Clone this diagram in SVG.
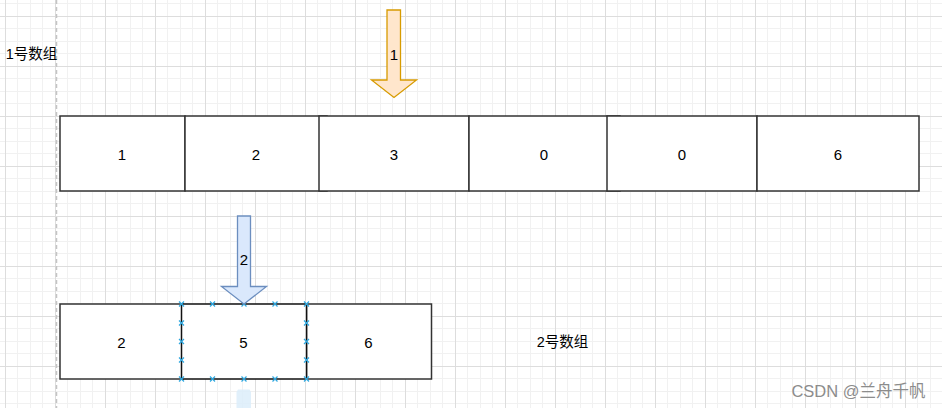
<svg xmlns="http://www.w3.org/2000/svg" width="942" height="408" viewBox="0 0 942 408">
<style>
.cell{fill:#ffffff;stroke:#333333;stroke-width:1.5}
.sel{fill:#ffffff;stroke:#111111;stroke-width:1.5}
.t{font-family:"Liberation Sans","Noto Sans CJK SC",Arial,sans-serif;font-size:15px;fill:#000000;text-anchor:middle;dominant-baseline:central}
.lbl{font-family:"Liberation Sans","Noto Sans CJK SC",Arial,sans-serif;font-size:14.5px;fill:#000000;text-anchor:middle;dominant-baseline:central}
.wm{font-family:"Liberation Sans","Noto Sans CJK SC",Arial,sans-serif;font-size:16.5px;fill:#8c8c8c;text-anchor:middle;dominant-baseline:central}
.cp{stroke:#2fa8e0;stroke-width:1.2;fill:none}
</style>
<defs>
<pattern id="grid" patternUnits="userSpaceOnUse" x="5" y="16" width="50" height="50">
<rect x="0" y="0" width="50" height="50" fill="#ffffff"/>
<rect x="12" y="0" width="1" height="50" fill="#f1f1f1"/>
<rect x="25" y="0" width="1" height="50" fill="#f1f1f1"/>
<rect x="37" y="0" width="1" height="50" fill="#f1f1f1"/>
<rect x="0" y="12" width="50" height="1" fill="#f1f1f1"/>
<rect x="0" y="25" width="50" height="1" fill="#f1f1f1"/>
<rect x="0" y="37" width="50" height="1" fill="#f1f1f1"/>
<rect x="0" y="0" width="1" height="50" fill="#dddddd"/>
<rect x="0" y="0" width="50" height="1" fill="#dddddd"/>
</pattern>
<g id="cpm"><path class="cp" d="M-2.5,-2.5 L2.5,2.5 M-2.5,2.5 L2.5,-2.5"/></g>
</defs>
<rect x="0" y="0" width="942" height="408" fill="url(#grid)"/>
<line x1="56.5" y1="0" x2="56.5" y2="408" stroke="#c4c4c4" stroke-width="1.5" stroke-dasharray="4 3"/>

<g id="label1"><text class="lbl" x="31.5" y="54">1号数组</text></g>
<g id="label2"><text class="lbl" x="562.5" y="342">2号数组</text></g>

<g id="arr1-cell1"><rect class="cell" x="60" y="116" width="125" height="75"/><text class="t" x="122" y="154">1</text></g>
<g id="arr1-cell2"><rect class="cell" x="185" y="116" width="142" height="75"/><text class="t" x="256" y="154">2</text></g>
<g id="arr1-cell3"><rect class="cell" x="319" y="116" width="150" height="75"/><text class="t" x="394" y="154">3</text></g>
<g id="arr1-cell4"><rect class="cell" x="469" y="116" width="151" height="75"/><text class="t" x="544" y="154">0</text></g>
<g id="arr1-cell5"><rect class="cell" x="607" y="116" width="150" height="75"/><text class="t" x="682" y="154">0</text></g>
<g id="arr1-cell6"><rect class="cell" x="757" y="116" width="162" height="75"/><text class="t" x="838" y="154">6</text></g>

<g id="pointer1">
<polygon points="387,10 400.5,10 400.5,80 416.5,80 394,97.5 371.5,80 387,80" fill="#ffe6cc" stroke="#d79b00" stroke-width="1.3" stroke-linejoin="miter"/>
<text class="t" x="394" y="54">1</text>
</g>

<g id="arr2-cell1"><rect class="cell" x="60" y="304" width="123" height="75"/><text class="t" x="121.5" y="342">2</text></g>
<g id="arr2-cell3"><rect class="cell" x="306.5" y="304" width="125" height="75"/><text class="t" x="368.5" y="342">6</text></g>
<g id="arr2-cell2"><rect class="sel" x="181.5" y="304" width="125" height="75"/><text class="t" x="243.5" y="342">5</text>
<use href="#cpm" x="181.5" y="304"/><use href="#cpm" x="212.5" y="304"/><use href="#cpm" x="244" y="304"/><use href="#cpm" x="275" y="304"/><use href="#cpm" x="306.5" y="304"/>
<use href="#cpm" x="181.5" y="379"/><use href="#cpm" x="212.5" y="379"/><use href="#cpm" x="244" y="379"/><use href="#cpm" x="275" y="379"/><use href="#cpm" x="306.5" y="379"/>
<use href="#cpm" x="181.5" y="323"/><use href="#cpm" x="181.5" y="341.5"/><use href="#cpm" x="181.5" y="360"/>
<use href="#cpm" x="306.5" y="323"/><use href="#cpm" x="306.5" y="341.5"/><use href="#cpm" x="306.5" y="360"/>
</g>

<g id="pointer2">
<polygon points="237.5,216 250.5,216 250.5,286.5 266.5,286.5 244,304 221.5,286.5 237.5,286.5" fill="#dae8fc" stroke="#6c8ebf" stroke-width="1.3"/>
<text class="t" x="244" y="259">2</text>
</g>

<g id="hover-arrow"><polygon points="236.5,392 238,389.5 249.5,389.5 251,392 251,408 236.5,408" fill="#dcedfa" opacity="0.85"/></g>

<g id="connectors"></g>

<g id="watermark"><text class="wm" x="858.5" y="391">CSDN @兰舟千帆</text></g>
</svg>
